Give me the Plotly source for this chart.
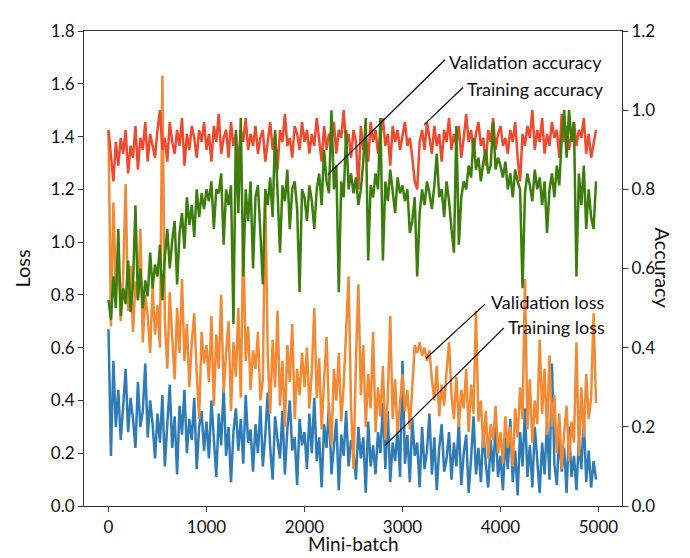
import plotly.graph_objects as go

batches = list(range(0, 5000, 25))

training_loss = [
    0.67, 0.19, 0.55, 0.30, 0.44, 0.25, 0.38, 0.52, 0.28, 0.41, 0.33, 0.22, 0.47, 0.30, 0.36, 0.54, 0.26, 0.40, 0.31, 0.18,
    0.35, 0.24, 0.42, 0.15, 0.31, 0.46, 0.22, 0.34, 0.12, 0.38, 0.27, 0.44, 0.20, 0.33, 0.25, 0.41, 0.14, 0.30, 0.36, 0.21,
    0.32, 0.18, 0.40, 0.26, 0.11, 0.35, 0.23, 0.45, 0.19, 0.30, 0.09, 0.28, 0.37, 0.21, 0.33, 0.16, 0.42, 0.24, 0.29, 0.13,
    0.31, 0.20, 0.38, 0.15, 0.27, 0.43, 0.22, 0.10, 0.34, 0.25, 0.18, 0.36, 0.12, 0.29, 0.40, 0.21, 0.26, 0.08, 0.33, 0.23,
    0.28, 0.14, 0.35, 0.20, 0.41, 0.17, 0.26, 0.07, 0.31, 0.22, 0.38, 0.12, 0.24, 0.33, 0.06, 0.27, 0.19, 0.36, 0.15, 0.25,
    0.21, 0.10, 0.30, 0.18, 0.26, 0.05, 0.32, 0.15, 0.23, 0.12, 0.28, 0.20, 0.39, 0.14, 0.36, 0.09, 0.24, 0.17, 0.29, 0.11,
    0.55, 0.16, 0.27, 0.09, 0.33, 0.19, 0.24, 0.07, 0.30, 0.14, 0.21, 0.35, 0.12, 0.26, 0.06, 0.22, 0.31, 0.13, 0.18, 0.28,
    0.10, 0.24, 0.15, 0.32, 0.08, 0.20, 0.27, 0.05, 0.18, 0.34, 0.12, 0.22, 0.09, 0.29, 0.16, 0.07, 0.25, 0.13, 0.31, 0.11,
    0.19, 0.06, 0.26, 0.14, 0.33, 0.09, 0.21, 0.04, 0.28, 0.15, 0.37, 0.11, 0.23, 0.07, 0.30, 0.17, 0.05, 0.24, 0.12, 0.32,
    0.10, 0.54, 0.16, 0.08, 0.27, 0.13, 0.22, 0.05, 0.30, 0.11, 0.19, 0.06, 0.25, 0.14, 0.33, 0.09, 0.21, 0.07, 0.17, 0.10,
]

validation_loss = [
    1.42, 0.68, 1.15, 0.82, 0.95, 0.70, 0.88, 1.22, 0.74, 0.91, 0.66, 0.85, 0.78, 1.05, 0.62, 0.80, 0.72, 0.58, 0.83, 0.65,
    0.76, 0.60, 1.63, 0.70, 0.52, 0.81, 0.64, 0.48, 0.75, 0.58, 0.86, 0.55, 0.69, 0.45, 0.62, 0.73, 0.50, 0.33, 0.66, 0.54,
    0.61, 0.47, 0.72, 0.38, 0.65, 0.52, 0.80, 0.43, 0.58, 0.70, 0.36, 0.62, 0.49, 0.75, 0.41, 1.02, 0.55, 0.68, 0.44, 0.59,
    0.52, 0.66, 0.40, 0.48, 1.20, 0.57, 0.35, 0.63, 0.45, 0.74, 0.38, 0.55, 0.30, 0.61, 0.47, 0.69, 0.33, 0.52, 0.42, 0.58,
    0.45, 0.60, 0.37, 0.51, 0.75, 0.41, 0.56, 0.29, 0.48, 0.64, 0.35, 0.23, 0.52, 0.40, 0.58, 0.32, 0.46, 0.68, 0.87, 0.38,
    0.14, 0.55, 0.84, 0.42, 0.61, 0.30, 0.50, 0.37, 0.66, 0.28, 0.45, 0.34, 0.53, 0.25, 0.41, 0.72, 0.33, 0.48, 0.27, 0.39,
    0.50, 0.36, 0.44, 0.29, 0.47, 0.61, 0.58, 0.62, 0.57, 0.60, 0.55, 0.59, 0.48, 0.40, 0.53, 0.34, 0.46, 0.38, 0.51, 0.62,
    0.42, 0.33, 0.49, 0.30, 0.44, 0.37, 0.52, 0.28, 0.46, 0.35, 0.74, 0.32, 0.40, 0.22, 0.36, 0.18, 0.31, 0.25, 0.38, 0.20,
    0.28, 0.16, 0.34, 0.22, 0.30, 0.15, 0.37, 0.26, 0.45, 0.33, 0.86, 0.29, 0.48, 0.24, 0.40, 0.31, 0.63, 0.35, 0.52, 0.27,
    0.57, 0.30, 0.42, 0.20, 0.35, 0.14, 0.28, 0.38, 0.17, 0.32, 0.24, 0.62, 0.19, 0.45, 0.26, 0.50, 0.33, 0.41, 0.73, 0.39,
]

validation_accuracy = [
    0.95, 0.88, 0.82, 0.92, 0.86, 0.93, 0.89, 0.95, 0.84, 0.91, 0.88, 0.96, 0.85, 0.93, 0.90, 0.97, 0.87, 0.94, 0.91, 0.88,
    0.95, 1.00, 0.90, 0.93, 0.87, 0.97, 0.92, 0.89, 0.95, 0.91, 0.98, 0.86, 0.94, 0.90, 0.96, 0.93, 0.88, 0.95, 0.92, 0.97,
    0.90, 0.94, 0.87, 0.96, 0.92, 0.99, 0.89, 0.93, 0.95, 0.88, 0.97, 0.91, 0.94, 0.86, 0.95, 0.92, 0.98, 0.90, 0.94, 0.91,
    0.96, 0.89, 0.93, 0.95, 0.87, 0.92, 0.97, 0.90, 0.94, 0.85, 0.95, 0.92, 0.99, 0.91, 0.93, 0.88, 0.96, 0.94, 0.90, 0.97,
    0.92, 0.95, 0.89, 0.94, 0.91, 0.98, 0.93, 0.87, 0.96, 0.90, 0.94, 0.92, 0.97, 0.89, 0.95, 0.93, 1.00, 0.91, 0.94, 0.88,
    0.95, 0.92, 0.80, 0.96, 0.90, 0.94, 0.87, 0.97, 0.92, 0.95, 0.89, 0.93, 0.98, 0.91, 0.94, 0.86, 0.96, 0.92, 0.95, 0.90,
    0.94, 0.97, 0.91, 0.93, 0.88, 0.82, 0.80, 0.92, 0.95, 0.90, 0.97, 0.93, 0.89, 0.96, 0.91, 0.94, 0.87, 0.95, 0.92, 0.98,
    0.90, 0.94, 0.91, 0.96, 0.88, 0.93, 0.99, 0.92, 0.95, 0.89, 0.94, 0.97, 0.91, 0.93, 0.86, 0.95, 0.92, 0.98, 0.90, 0.94,
    0.96, 0.91, 0.93, 0.89, 0.95, 0.92, 0.97, 0.88, 0.82, 0.94, 0.91, 0.96, 0.93, 1.00, 0.90, 0.95, 0.92, 0.98, 0.89, 0.94,
    0.91, 0.97, 0.93, 0.95, 0.88, 0.99, 0.92, 0.96, 0.90, 0.94, 0.97, 0.91, 0.95, 0.93, 0.98, 0.89, 0.94, 0.88, 0.92, 0.95,
]

training_accuracy = [
    0.52, 0.47, 0.58, 0.50, 0.70, 0.48, 0.55, 0.51, 0.62, 0.49, 0.56, 0.76, 0.52, 0.60, 0.50, 0.57, 0.53, 0.64, 0.55, 0.61,
    0.58, 0.66, 0.52, 0.63, 0.70, 0.60, 0.67, 0.72, 0.56, 0.69, 0.74, 0.65, 0.78, 0.71, 0.76, 0.68, 0.80, 0.73, 0.79, 0.75,
    0.80, 0.77, 0.82, 0.70, 0.80, 0.79, 0.84, 0.66, 0.80, 0.76, 0.81, 0.46, 0.95, 0.74, 0.98, 0.58, 0.80, 0.72, 0.82, 0.60,
    0.78, 0.81, 0.69, 0.56, 0.80, 0.76, 0.83, 0.73, 0.95, 0.79, 0.64, 0.81, 0.77, 0.85, 0.70, 0.80, 0.82, 0.75, 0.54, 0.80,
    0.78, 0.72, 0.81, 0.77, 0.70, 0.80, 0.84, 0.76, 0.90, 0.82, 0.79, 1.00, 0.80, 0.86, 0.54, 0.82, 0.78, 0.95, 0.80, 0.84,
    0.79, 0.83, 0.76, 0.80, 0.87, 0.98, 0.62, 0.81, 0.78, 0.84, 0.80, 0.98, 0.62, 0.82, 0.77, 0.85, 0.80, 0.74, 0.83, 0.79,
    0.81, 0.77, 0.80, 0.69, 0.72, 0.78, 0.58, 0.74, 0.80, 0.76, 0.82, 0.79, 0.75, 0.81, 0.89, 0.78, 0.80, 0.73, 0.82, 0.77,
    0.70, 0.64, 0.96, 0.66, 0.78, 0.82, 0.80, 0.86, 0.83, 0.93, 0.85, 0.88, 0.82, 0.87, 0.90, 0.84, 0.86, 0.97, 0.85, 0.88,
    0.86, 0.83, 0.87, 0.80, 0.84, 0.78, 0.85, 0.82, 0.80, 0.55, 0.79, 0.84, 0.81, 0.77, 0.85, 0.80, 0.83, 0.76, 0.82, 0.69,
    0.80, 0.84, 0.78, 0.86, 0.81, 0.93, 1.00, 0.88, 1.00, 0.92, 0.97, 0.58, 0.84, 0.76, 0.86, 0.70, 0.80, 0.73, 0.70, 0.82,
]

loss_ticks = [0.0, 0.2, 0.4, 0.6, 0.8, 1.0, 1.2, 1.4, 1.6, 1.8]
acc_ticks = [0.0, 0.2, 0.4, 0.6, 0.8, 1.0, 1.2]
batch_ticks = [0, 1000, 2000, 3000, 4000, 5000]

FONT = "Lato"
AX = "#333333"
LW = 2.5

fig = go.Figure()
fig.add_trace(go.Scatter(x=batches, y=training_loss, mode="lines", name="Training loss",
                         line=dict(color="#2e7bb6", width=LW), yaxis="y"))
fig.add_trace(go.Scatter(x=batches, y=validation_loss, mode="lines", name="Validation loss",
                         line=dict(color="#f28a35", width=LW), yaxis="y"))
fig.add_trace(go.Scatter(x=batches, y=validation_accuracy, mode="lines", name="Validation accuracy",
                         line=dict(color="#ee4a2e", width=LW), yaxis="y2"))
fig.add_trace(go.Scatter(x=batches, y=training_accuracy, mode="lines", name="Training accuracy",
                         line=dict(color="#3c7d0c", width=LW), yaxis="y2"))

axis_common = dict(showgrid=False, zeroline=False, showline=True, linecolor=AX, linewidth=1.2,
                   ticks="outside", ticklen=5, tickcolor=AX, tickwidth=1.2,
                   tickfont=dict(family=FONT, size=17, color="#111"))

fig.update_layout(
    width=690, height=558,
    margin=dict(l=76, r=76, t=18, b=60),
    paper_bgcolor="white", plot_bgcolor="white",
    showlegend=False,
    xaxis=dict(range=[-250, 5240], tickvals=batch_ticks, ticktext=[str(t) for t in batch_ticks],
               mirror=True, **axis_common),
    yaxis=dict(range=[0, 1.8], tickvals=loss_ticks, ticktext=[f"{t:.1f}" for t in loss_ticks],
               **axis_common),
    yaxis2=dict(range=[0, 1.2], tickvals=acc_ticks, ticktext=[f"{t:.1f}" for t in acc_ticks],
                overlaying="y", side="right", **axis_common),
)

# annotation labels with leader lines (data coords on loss axis)
labels = [
    ("Validation accuracy", 3454, 1.684, (3434, 1.691), (2240, 1.256)),
    ("Training accuracy", 3638, 1.579, (3617, 1.586), (3219, 1.444)),
    ("Validation loss", 3883, 0.772, (3842, 0.765), (3240, 0.559)),
    ("Training loss", 4056, 0.679, (4035, 0.675), (2821, 0.229)),
]
for text, tx, ty, p0, p1 in labels:
    fig.add_annotation(x=tx, y=ty, xref="x", yref="y", text=text, showarrow=False,
                       xanchor="left", yanchor="middle",
                       font=dict(family=FONT, size=18, color="#111"))
    fig.add_shape(type="line", xref="x", yref="y", x0=p0[0], y0=p0[1], x1=p1[0], y1=p1[1],
                  line=dict(color="black", width=1.2))

# axis titles
fig.add_annotation(text="Loss", xref="paper", yref="paper", x=-0.117, y=0.5, showarrow=False,
                   textangle=-90, xanchor="center", yanchor="middle",
                   font=dict(family=FONT, size=20, color="#111"))
fig.add_annotation(text="Accuracy", xref="paper", yref="paper", x=1.078, y=0.5, showarrow=False,
                   textangle=90, xanchor="center", yanchor="middle",
                   font=dict(family=FONT, size=20, color="#111"))
fig.add_annotation(text="Mini-batch", xref="paper", yref="paper", x=0.5, y=-0.079, showarrow=False,
                   xanchor="center", yanchor="middle",
                   font=dict(family=FONT, size=19, color="#111"))

fig.write_html("out.html")
